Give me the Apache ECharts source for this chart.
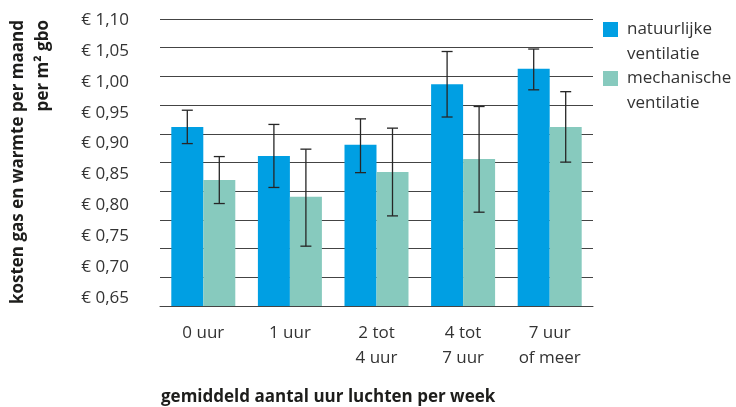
<!DOCTYPE html>
<html>
<head>
<meta charset="utf-8">
<script src="https://cdn.jsdelivr.net/npm/echarts@6/dist/echarts.min.js"></script>
<style>
  html, body { margin: 0; padding: 0; background: #fff; }
  #chart { width: 736px; height: 407px; }
</style>
</head>
<body>
<div id="chart"></div>
<script>
// Categories: average hours of airing per week
const categories = ['0 uur', '1 uur', '2 tot\n4 uur', '4 tot\n7 uur', '7 uur\nof meer'];
const seriesNames = ['natuurlijke\nventilatie', 'mechanische\nventilatie'];

// Monthly gas + heat cost per m² gbo (euro), with error-bar bounds
const natuurlijk     = [0.927, 0.880, 0.898, 0.996, 1.021];
const natuurlijkLow  = [0.900, 0.829, 0.853, 0.943, 0.987];
const natuurlijkHigh = [0.954, 0.931, 0.940, 1.049, 1.053];

const mechanisch     = [0.841, 0.814, 0.854, 0.875, 0.927];
const mechanischLow  = [0.803, 0.734, 0.783, 0.789, 0.870];
const mechanischHigh = [0.879, 0.891, 0.925, 0.960, 0.984];

// Value-axis tick labels
const tickLabels = [0.65, 0.70, 0.75, 0.80, 0.85, 0.90, 0.95, 1.00, 1.05, 1.10];

const FONT = '"Open Sans", "Noto Sans", sans-serif';
const BAR_RATIO = 0.3695;           // bar width as share of a category band
const BLUE = '#009fe3';
const TEAL = '#87cabe';

function euro(v) {
  return '€ ' + v.toFixed(2).replace('.', ',');
}

// Error bars drawn through the axes: a vertical whisker with caps
function errorSeries(low, high, sign) {
  return {
    type: 'custom',
    xAxisIndex: 0,
    yAxisIndex: 0,
    silent: true,
    z: 10,
    encode: { x: 0, y: [1, 2] },
    data: low.map((l, i) => [i, l, high[i]]),
    renderItem: function (params, api) {
      const band = api.size([1, 0])[0];
      const dx = sign * band * BAR_RATIO / 2;
      const top = api.coord([api.value(0), api.value(2)]);
      const bot = api.coord([api.value(0), api.value(1)]);
      const x = top[0] + dx;
      const cap = 5.5;
      const style = { stroke: '#262626', lineWidth: 1.3 };
      return {
        type: 'group',
        children: [
          { type: 'line', shape: { x1: x, y1: top[1], x2: x, y2: bot[1] }, style: style },
          { type: 'line', shape: { x1: x - cap, y1: top[1], x2: x + cap, y2: top[1] }, style: style },
          { type: 'line', shape: { x1: x - cap, y1: bot[1], x2: x + cap, y2: bot[1] }, style: style }
        ]
      };
    }
  };
}

// Legend entries: the swatch sits beside the first of the two text lines
const legendText = {
  fontFamily: FONT,
  fontSize: 17,
  lineHeight: 25,
  color: '#333',
  padding: [0, 0, 0, 4]
};
const legendFormatter = name => '\n' + name;

const chart = echarts.init(document.getElementById('chart'), null, { renderer: 'canvas' });

chart.setOption({
  animation: false,
  backgroundColor: '#fff',
  textStyle: { fontFamily: FONT },
  grid: { left: 160, right: 143, top: 19, bottom: 101, containLabel: false },
  legend: [
    {
      data: [seriesNames[0]], left: 603, top: -8, padding: 0,
      icon: 'rect', itemWidth: 15, itemHeight: 15, selectedMode: false,
      formatter: legendFormatter, textStyle: legendText
    },
    {
      data: [seriesNames[1]], left: 603, top: 41, padding: 0,
      icon: 'rect', itemWidth: 15, itemHeight: 15, selectedMode: false,
      formatter: legendFormatter, textStyle: legendText
    }
  ],
  xAxis: {
    type: 'category',
    data: categories,
    axisLine: { show: true, lineStyle: { color: '#444', width: 1 } },
    axisTick: { show: false },
    axisLabel: {
      color: '#333', fontFamily: FONT, fontSize: 17, lineHeight: 25,
      margin: 15, interval: 0
    }
  },
  yAxis: [
    {
      // value scale carrying the bars and the euro labels
      type: 'value',
      min: 0.6372,
      max: 1.1016,
      axisLine: { show: false },
      axisTick: { show: false },
      splitLine: { show: false },
      axisLabel: {
        customValues: tickLabels,
        formatter: euro,
        color: '#333', fontFamily: FONT, fontSize: 17, margin: 31
      }
    },
    {
      // horizontal rules every 0.05
      type: 'value',
      min: 0.60,
      max: 1.10,
      interval: 0.05,
      position: 'left',
      axisLine: { show: false },
      axisTick: { show: false },
      axisLabel: { show: false },
      splitLine: { show: true, lineStyle: { color: '#444', width: 1 } }
    }
  ],
  series: [
    {
      name: seriesNames[0], type: 'bar', data: natuurlijk,
      barWidth: (BAR_RATIO * 100) + '%', barGap: '0%',
      itemStyle: { color: BLUE }, z: 2
    },
    {
      name: seriesNames[1], type: 'bar', data: mechanisch,
      barWidth: (BAR_RATIO * 100) + '%', barGap: '0%',
      itemStyle: { color: TEAL }, z: 2
    },
    errorSeries(natuurlijkLow, natuurlijkHigh, -1),
    errorSeries(mechanischLow, mechanischHigh, 1)
  ],
  graphic: [
    {
      type: 'text',
      x: 5.5, y: 20,
      rotation: Math.PI / 2,
      style: {
        text: 'kosten gas en warmte per maand\nper m² gbo',
        font: 'bold 17px ' + FONT,
        lineHeight: 25,
        fill: '#1d1d1b',
        align: 'right',
        verticalAlign: 'top'
      }
    },
    {
      type: 'text',
      x: 161, y: 397,
      style: {
        text: 'gemiddeld aantal uur luchten per week',
        font: 'bold 17px ' + FONT,
        fill: '#1d1d1b',
        align: 'left',
        verticalAlign: 'middle'
      }
    }
  ]
});
</script>
</body>
</html>
